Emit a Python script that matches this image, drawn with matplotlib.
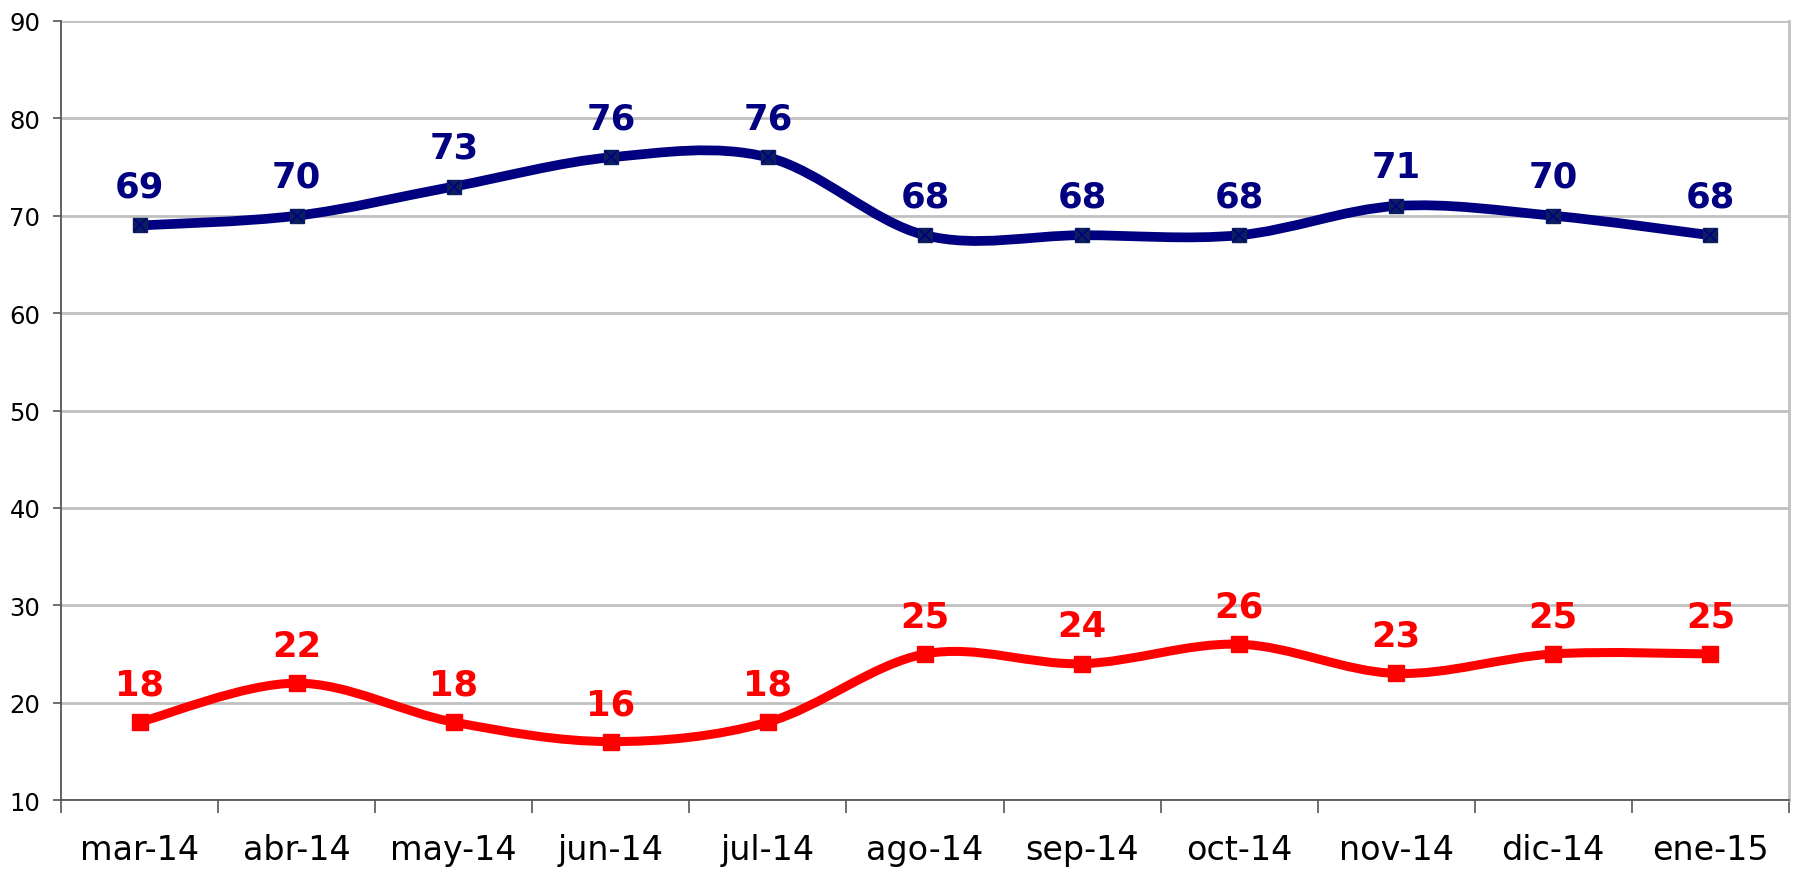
import matplotlib
matplotlib.use("Agg")
import matplotlib.pyplot as plt
from matplotlib.path import Path
from matplotlib.patches import PathPatch

months = ["mar-14", "abr-14", "may-14", "jun-14", "jul-14", "ago-14",
          "sep-14", "oct-14", "nov-14", "dic-14", "ene-15"]
blue_vals = [69, 70, 73, 76, 76, 68, 68, 68, 71, 70, 68]
red_vals = [18, 22, 18, 16, 18, 25, 24, 26, 23, 25, 25]
y_ticks = [10, 20, 30, 40, 50, 60, 70, 80, 90]


def smooth_path(xs, ys):
    # excel-like smoothed line: catmull-rom as cubic bezier segments
    pts = list(zip(xs, ys))
    verts = [pts[0]]
    codes = [Path.MOVETO]
    n = len(pts)
    for i in range(n - 1):
        p0 = pts[i - 1] if i > 0 else pts[i]
        p1 = pts[i]
        p2 = pts[i + 1]
        p3 = pts[i + 2] if i + 2 < n else pts[i + 1]
        c1 = (p1[0] + (p2[0] - p0[0]) / 6, p1[1] + (p2[1] - p0[1]) / 6)
        c2 = (p2[0] - (p3[0] - p1[0]) / 6, p2[1] - (p3[1] - p1[1]) / 6)
        verts += [c1, c2, p2]
        codes += [Path.CURVE4] * 3
    return Path(verts, codes)


fig = plt.figure(figsize=(17.97, 8.79), dpi=100)
ax = fig.add_axes([0.034, 0.0887, 0.9615, 0.8863])

x = list(range(len(months)))

ax.add_patch(PathPatch(smooth_path(x, blue_vals), fill=False,
                       edgecolor="#000080", lw=7, capstyle="round", zorder=3))
ax.add_patch(PathPatch(smooth_path(x, red_vals), fill=False,
                       edgecolor="#ff0000", lw=6.5, capstyle="round", zorder=3))

ax.plot(x, blue_vals, ls="none", marker="s", ms=10, color="#0b1f5e", zorder=4)
ax.plot(x, blue_vals, ls="none", marker="x", ms=8.5, mew=1.2, color="#000080", zorder=5)
ax.plot(x, red_vals, ls="none", marker="s", ms=11, color="#ff0000", zorder=4)

for xi, v in zip(x, blue_vals):
    ax.annotate(str(v), (xi, v), xytext=(0, 28), textcoords="offset points",
                ha="center", va="center", fontsize=25.5, fontweight="bold",
                color="#000080", zorder=6)
for xi, v in zip(x, red_vals):
    ax.annotate(str(v), (xi, v), xytext=(0, 27), textcoords="offset points",
                ha="center", va="center", fontsize=25.5, fontweight="bold",
                color="#ff0000", zorder=6)

ax.set_xlim(-0.5, len(months) - 0.5)
ax.set_ylim(10, 90)
ax.set_yticks(y_ticks)
ax.set_yticklabels([str(t) for t in y_ticks], fontsize=17.5)
ax.set_xticks(x)
ax.set_xticklabels(months, fontsize=24)
ax.set_xticks([i - 0.5 for i in range(len(months) + 1)], minor=True)
ax.tick_params(axis="x", which="major", length=0, pad=24)
ax.tick_params(axis="x", which="minor", length=9, width=1.2, color="#555555")
ax.tick_params(axis="y", length=6, width=1.2, color="#555555", pad=9)

ax.grid(axis="y", color="#c0c0c0", lw=2)
ax.set_axisbelow(True)
ax.spines["top"].set_visible(False)
ax.spines["right"].set_color("#c0c0c0")
ax.spines["right"].set_linewidth(2)
ax.spines["left"].set_color("#555555")
ax.spines["bottom"].set_color("#555555")
ax.spines["left"].set_linewidth(1.3)
ax.spines["bottom"].set_linewidth(1.3)

fig.savefig("out.png", dpi=100)
